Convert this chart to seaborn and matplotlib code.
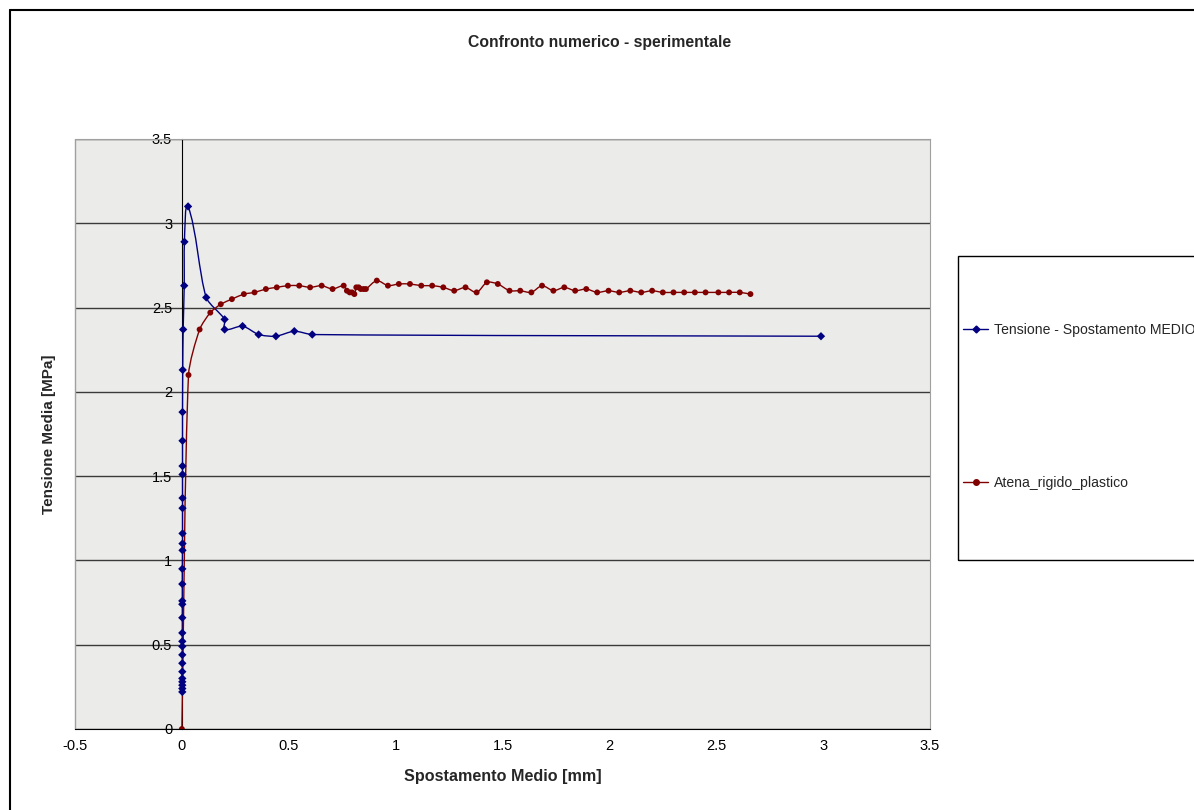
import numpy as np, matplotlib
matplotlib.use("Agg")
import matplotlib.pyplot as plt; import seaborn as sns
import pandas as pd
from matplotlib.path import Path
from matplotlib.patches import PathPatch, Rectangle
from matplotlib.lines import Line2D

# data
blue_x = [0.002, 0.002, 0.002, 0.002, 0.002, 0.002, 0.002, 0.002, 0.002, 0.002,
          0.002, 0.002, 0.002, 0.002, 0.002, 0.002, 0.003, 0.003, 0.003, 0.003,
          0.003, 0.003, 0.003, 0.003, 0.003, 0.004, 0.006, 0.011, 0.012, 0.029,
          0.114, 0.20, 0.20, 0.284, 0.359, 0.44, 0.526, 0.61, 2.99]
blue_y = [0.22, 0.24, 0.26, 0.28, 0.30, 0.34, 0.39, 0.44, 0.49, 0.52,
          0.57, 0.66, 0.74, 0.76, 0.86, 0.95, 1.06, 1.10, 1.16, 1.31,
          1.37, 1.51, 1.56, 1.71, 1.88, 2.13, 2.37, 2.63, 2.89, 3.10,
          2.56, 2.43, 2.37, 2.39, 2.34, 2.33, 2.36, 2.34, 2.33]
red_x = [0.0, 0.031, 0.083, 0.133, 0.182, 0.234, 0.29, 0.34, 0.393, 0.444,
         0.496, 0.549, 0.60, 0.654, 0.705, 0.757, 0.772, 0.785, 0.796, 0.807,
         0.816, 0.827, 0.837, 0.85, 0.861, 0.912, 0.964, 1.015, 1.067, 1.12,
         1.171, 1.223, 1.274, 1.327, 1.379, 1.427, 1.478, 1.533, 1.583, 1.635,
         1.685, 1.738, 1.789, 1.84, 1.892, 1.943, 1.996, 2.046, 2.098, 2.149,
         2.20, 2.25, 2.30, 2.35, 2.40, 2.45, 2.51, 2.56, 2.61, 2.66]
red_y = [0.0, 2.10, 2.37, 2.47, 2.52, 2.55, 2.58, 2.59, 2.61, 2.62,
         2.63, 2.63, 2.62, 2.63, 2.61, 2.63, 2.60, 2.59, 2.59, 2.58,
         2.62, 2.62, 2.61, 2.61, 2.61, 2.66, 2.63, 2.64, 2.64, 2.63,
         2.63, 2.62, 2.60, 2.62, 2.59, 2.65, 2.64, 2.60, 2.60, 2.59,
         2.63, 2.60, 2.62, 2.60, 2.61, 2.59, 2.60, 2.59, 2.60, 2.59,
         2.60, 2.59, 2.59, 2.59, 2.59, 2.59, 2.59, 2.59, 2.59, 2.58]
series_names = ["Tensione - Spostamento MEDIO", "Atena_rigido_plastico"]
x_ticks = [-0.5, 0, 0.5, 1, 1.5, 2, 2.5, 3, 3.5]
x_tick_labels = ["-0.5", "0", "0.5", "1", "1.5", "2", "2.5", "3", "3.5"]
y_ticks = [0, 0.5, 1, 1.5, 2, 2.5, 3, 3.5]
y_tick_labels = ["0", "0.5", "1", "1.5", "2", "2.5", "3", "3.5"]

BLUE, RED = "#000080", "#800000"

sns.set_style("white")
plt.rcParams['font.family'] = ['Liberation Sans', 'DejaVu Sans']

df = pd.concat([pd.DataFrame({"x": blue_x, "y": blue_y, "serie": series_names[0]}),
                pd.DataFrame({"x": red_x, "y": red_y, "serie": series_names[1]})])

W, H = 1194, 810
fig = plt.figure(figsize=(W/100, H/100), dpi=100)
ax = fig.add_axes([75/W, 1-729/H, 855/W, 590/H])
ax.set_facecolor("#ebebea")
ax.set_xlim(-0.5, 3.5); ax.set_ylim(0, 3.5)

def smooth_path(xs, ys, k=4.0):
    # smoothed line like excel: bezier with tangents scaled by segment length (in screen space)
    sx, sy = 855/4.0, 590/3.5
    p = np.column_stack([np.asarray(xs)*sx, np.asarray(ys)*sy])
    n = len(p)
    tang = []
    for i in range(n):
        d = p[min(i+1, n-1)] - p[max(i-1, 0)]
        nrm = np.hypot(*d)
        tang.append(d/nrm if nrm > 0 else d)
    verts, codes = [p[0]], [Path.MOVETO]
    for i in range(n-1):
        L = np.hypot(*(p[i+1]-p[i]))
        verts += [p[i] + tang[i]*L/k, p[i+1] - tang[i+1]*L/k, p[i+1]]
        codes += [Path.CURVE4]*3
    v = np.array(verts); v[:, 0] /= sx; v[:, 1] /= sy
    return Path(v, codes)

for (xs, ys, c) in [(blue_x, blue_y, BLUE), (red_x, red_y, RED)]:
    ax.add_patch(PathPatch(smooth_path(xs, ys), fill=False, ec=c, lw=1.0, zorder=3))

sns.scatterplot(data=df, x="x", y="y", hue="serie", style="serie",
                palette=[BLUE, RED], markers=["D", "o"], s=18, linewidth=0,
                legend=False, ax=ax, zorder=4)

ax.set_xlim(-0.5, 3.5); ax.set_ylim(0, 3.5)
ax.set_xticks(x_ticks); ax.set_xticklabels(x_tick_labels)
ax.set_yticks(y_ticks); ax.set_yticklabels(y_tick_labels)
ax.tick_params(axis="both", labelsize=10.5, direction="out", length=4, width=1, colors="black", pad=3)
ax.yaxis.grid(True, color="#3a3a3a", lw=1); ax.set_axisbelow(True)
ax.spines["left"].set_position(("data", 0))
for s in ["top", "right"]:
    ax.spines[s].set_color("#a0a0a0")
ax.spines["left"].set_color("black"); ax.spines["bottom"].set_color("black")
ax.add_patch(Rectangle((0, 0), 0.0001, 1, transform=ax.transAxes, fill=False, ec="#a0a0a0", lw=1, clip_on=False))

ax.set_xlabel("Spostamento Medio [mm]", fontsize=11.6, fontweight="bold")
ax.set_ylabel("Tensione Media [MPa]", fontsize=11, fontweight="bold")
ax.xaxis.set_label_coords(0.5, -0.067)
ax.yaxis.set_label_coords(-0.022, 0.5)
fig.text(600/W, 1-42/H, "Confronto numerico - sperimentale", ha="center", va="center",
         fontsize=11.3, fontweight="bold")

# legend
handles = [Line2D([], [], color=BLUE, marker="D", markersize=3.5, lw=1),
           Line2D([], [], color=RED, marker="o", markersize=4, lw=1)]
fig.legend(handles, series_names, loc="upper left", bbox_to_anchor=(963/W, 1-323/H),
           frameon=False, fontsize=10.1, handlelength=1.8, handletextpad=0.4,
           labelspacing=9.9, borderpad=0, borderaxespad=0)
fig.add_artist(Rectangle((958/W, 1-560/H), (W-950)/W, 304/H, transform=fig.transFigure,
                         fill=False, ec="black", lw=1, clip_on=False))
# chart border
fig.add_artist(Line2D([10/W, 10/W], [0, 1-10/H], transform=fig.transFigure, color="black", lw=1.5))
fig.add_artist(Line2D([10/W, 1], [1-10/H, 1-10/H], transform=fig.transFigure, color="black", lw=1.5))

fig.savefig("out.png", dpi=100)
